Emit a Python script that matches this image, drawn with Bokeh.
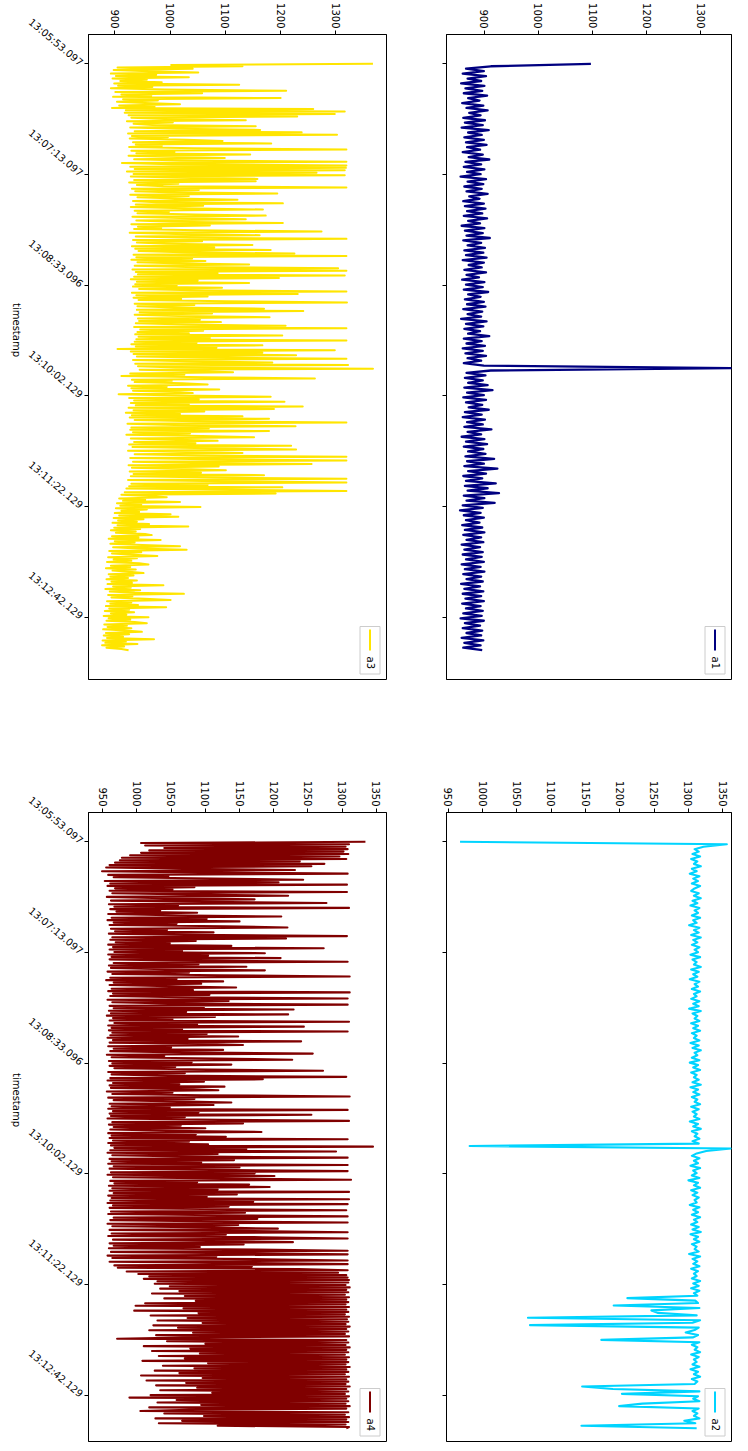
import math
import numpy as np
from bokeh.plotting import figure
from bokeh.layouts import column, row
from bokeh.models import Range1d, FixedTicker, Label
from bokeh.embed import file_html
from bokeh.resources import INLINE

# ---------------- data ----------------
N_SAMPLES = 2650
time_tick_positions = [0, 500, 1000, 1500, 2000, 2500]
time_tick_labels = ["13:05:53.097", "13:07:13.097", "13:08:33.096",
                    "13:10:02.129", "13:11:22.129", "13:12:42.129"]
value_ticks_a1 = [900, 1000, 1100, 1200, 1300]
value_ticks_a3 = [900, 1000, 1100, 1200, 1300]
value_ticks_a2 = [950, 1000, 1050, 1100, 1150, 1200, 1250, 1300, 1350]
value_ticks_a4 = [950, 1000, 1050, 1100, 1150, 1200, 1250, 1300, 1350]

a1 = [
    1097, 912, 866, 899, 860, 903, 869, 894, 857, 900, 865, 896, 862, 905, 870, 891, 859, 898, 867, 906,
    872, 893, 861, 901, 864, 897, 858, 908, 870, 895, 863, 899, 866, 904, 868, 892, 860, 897, 871, 909,
    865, 894, 862, 900, 868, 893, 856, 903, 869, 898, 863, 895, 867, 906, 872, 891, 861, 899, 864, 902,
    868, 896, 862, 905, 870, 892, 858, 900, 864, 897, 867, 910, 861, 894, 869, 901, 863, 898, 866, 904,
    860, 899, 871, 895, 863, 903, 867, 890, 859, 900, 866, 897, 862, 907, 870, 893, 864, 899, 868, 902,
    861, 896, 869, 894, 857, 904, 866, 898, 863, 892, 870, 909, 862, 895, 867, 901, 860, 897, 865, 903,
    869, 894, 862, 899, 1356, 912, 867, 902, 864, 897, 870, 906, 863, 915, 868, 899, 861, 903, 866, 896,
    871, 908, 864, 895, 860, 901, 868, 897, 863, 913, 869, 894, 858, 900, 866, 905, 862, 898, 870, 902,
    865, 918, 868, 899, 863, 924, 870, 903, 861, 896, 866, 921, 864, 906, 869, 927, 862, 900, 867, 919,
    860, 897, 855, 893, 862, 899, 866, 891, 859, 896, 864, 900, 861, 894, 867, 898, 858, 892, 863, 897,
    860, 895, 866, 899, 858, 893, 864, 900, 861, 894, 867, 897, 857, 892, 863, 898, 860, 894, 865, 899,
    859, 893, 866, 897, 861, 895, 856, 899, 864, 892, 860, 896, 867, 894, 858, 898, 863, 893, 861, 896,
]

a2 = [
    967, 1356, 1322, 1309, 1315, 1306, 1317, 1304, 1313, 1308, 1318, 1305, 1312, 1302, 1316, 1307, 1314, 1305, 1317, 1309,
    1304, 1315, 1308, 1318, 1306, 1313, 1303, 1316, 1309, 1314, 1305, 1317, 1307, 1312, 1301, 1316, 1308, 1315, 1304, 1318,
    1307, 1313, 1305, 1316, 1309, 1314, 1303, 1317, 1306, 1312, 1308, 1318, 1304, 1315, 1307, 1313, 1302, 1316, 1309, 1314,
    1305, 1317, 1308, 1312, 1304, 1316, 1307, 1315, 1301, 1318, 1306, 1313, 1309, 1316, 1304, 1314, 1307, 1317, 1305, 1312,
    1308, 1316, 1303, 1315, 1306, 1318, 1309, 1313, 1305, 1316, 1302, 1314, 1307, 1317, 1304, 1312, 1308, 1315, 1306, 1318,
    1303, 1314, 1307, 1316, 1305, 1313, 1309, 1317, 1304, 1315, 1306, 1312, 1308, 1316, 1302, 1314, 1307, 1318, 1305, 1313,
    1309, 1316, 1306, 1315, 981, 1362, 1326, 1312, 1305, 1316, 1308, 1314, 1303, 1317, 1307, 1312, 1305, 1316, 1300, 1314,
    1308, 1317, 1304, 1313, 1306, 1315, 1309, 1312, 1302, 1316, 1307, 1314, 1305, 1317, 1308, 1313, 1304, 1315, 1306, 1318,
    1303, 1314, 1308, 1316, 1305, 1312, 1309, 1315, 1301, 1317, 1306, 1313, 1307, 1316, 1304, 1314, 1308, 1312, 1305, 1317,
    1307, 1315, 1304, 1316, 1308, 1313, 1211, 1310, 1314, 1191, 1316, 1246, 1255, 1312, 1066, 1317, 1306, 1069, 1315, 1309,
    1296, 1314, 1307, 1173, 1316, 1305, 1313, 1309, 1317, 1304, 1315, 1308, 1312, 1306, 1316, 1303, 1314, 1308, 1317, 1305,
    1313, 1309, 1145, 1190, 1316, 1203, 1314, 1307, 1316, 1233, 1199, 1315, 1306, 1313, 1308, 1316, 1294, 1310, 1144, 1312,
]

a3 = [
    1367, 1002, 1131, 905, 1041, 898, 962, 1051, 893, 975, 902, 1034, 896, 958, 910, 985, 899, 1125, 906, 968,
    893, 990, 1210, 901, 1058, 912, 966, 897, 1200, 915, 978, 904, 955, 1018, 908, 972, 895, 1259, 920, 1316,
    918, 1298, 925, 1230, 930, 990, 1137, 922, 1005, 934, 968, 1155, 928, 1012, 1163, 936, 1238, 924, 1302, 931,
    996, 927, 1030, 1095, 933, 1183, 938, 985, 926, 1044, 1319, 930, 1008, 939, 1145, 925, 992, 1099, 935, 1020,
    1319, 913, 1002, 1319, 928, 1318, 936, 1316, 922, 1265, 934, 1316, 929, 1040, 1158, 935, 1155, 926, 1015, 940,
    988, 1319, 931, 1052, 937, 996, 1194, 928, 1034, 941, 1010, 1122, 933, 975, 1204, 938, 1060, 929, 1026, 1168,
    936, 998, 941, 1046, 1173, 932, 1018, 1137, 939, 1002, 1204, 930, 1072, 942, 984, 935, 1048, 1274, 927, 1011,
    1162, 938, 1036, 1319, 933, 1058, 940, 994, 1149, 931, 1080, 937, 1182, 943, 1022, 1225, 934, 1319, 939, 1040,
    930, 1064, 941, 1005, 1143, 936, 1030, 1304, 932, 1319, 938, 1086, 942, 1316, 935, 1197, 929, 1050, 940, 1143,
    937, 1012, 933, 1094, 944, 1038, 1319, 931, 1231, 939, 1068, 934, 1020, 943, 1102, 1320, 936, 1044, 941, 1007,
    1170, 940, 1241, 945, 1076, 936, 1016, 1180, 942, 1054, 944, 1092, 938, 1028, 1209, 935, 1319, 946, 1060, 941,
    1034, 937, 1203, 943, 1072, 939, 1319, 936, 1048, 930, 1167, 938, 1084, 905, 1298, 929, 1167, 934, 1228, 940,
    1056, 1319, 933, 1030, 1185, 937, 1322, 942, 1010, 1367, 945, 1040, 1114, 928, 1026, 912, 1064, 1262, 931, 1003,
    936, 1022, 1068, 924, 994, 930, 1089, 933, 1010, 1041, 907, 1016, 1182, 926, 1052, 935, 1207, 929, 1034, 938,
    1240, 925, 1188, 934, 1062, 920, 1018, 931, 1131, 927, 1179, 936, 1044, 1319, 923, 1008, 1227, 930, 1070, 928,
    1179, 933, 1036, 921, 1058, 1152, 929, 1012, 1086, 935, 1046, 926, 1219, 932, 1074, 1228, 924, 1030, 1131, 936,
    1050, 1319, 928, 1064, 1319, 933, 1040, 1256, 925, 1088, 931, 1022, 1101, 927, 1056, 934, 1170, 929, 1078, 1319,
    924, 1096, 1319, 930, 1068, 926, 1203, 921, 1112, 1319, 918, 1191, 912, 962, 994, 908, 955, 915, 1018, 904,
    948, 910, 1055, 902, 958, 912, 944, 900, 1001, 908, 1015, 898, 952, 906, 940, 896, 962, 905, 1033, 899,
    946, 893, 938, 902, 955, 967, 895, 943, 889, 983, 900, 936, 892, 950, 1018, 897, 942, 1030, 890, 948,
    895, 934, 977, 888, 940, 898, 930, 886, 944, 961, 893, 928, 884, 938, 896, 926, 952, 889, 934, 892,
    924, 885, 940, 894, 931, 887, 988, 897, 929, 883, 946, 891, 936, 1025, 888, 932, 894, 954, 1001, 886,
    930, 892, 942, 884, 993, 890, 926, 882, 935, 893, 921, 880, 961, 889, 928, 885, 936, 958, 881, 922,
    887, 930, 879, 918, 949, 884, 926, 880, 915, 886, 971, 878, 920, 883, 941, 877, 917, 885, 912, 925,
]

a4 = [
    1334, 1006, 1310, 1012, 1305, 1040, 1308, 1018, 1302, 1006, 1309, 990, 1296, 978, 1306, 975, 1238, 968, 1274, 960,
    1255, 955, 1068, 1231, 949, 1092, 1308, 958, 1046, 966, 1110, 1243, 953, 1207, 961, 1307, 957, 1084, 968, 1052,
    960, 1307, 964, 1075, 1221, 956, 1040, 1172, 962, 1098, 1277, 959, 1060, 967, 1310, 961, 1034, 970, 1088, 958,
    1046, 1211, 963, 1102, 957, 1150, 966, 1058, 960, 1128, 1220, 962, 1044, 968, 1112, 959, 1070, 1307, 964, 1218,
    961, 1086, 969, 1048, 958, 1138, 965, 1273, 960, 1066, 967, 1187, 958, 1104, 963, 1210, 960, 1052, 1308, 966,
    1090, 959, 1160, 962, 1042, 1187, 957, 1076, 964, 1120, 1311, 961, 1058, 955, 1126, 966, 1094, 960, 1048, 1145,
    963, 1082, 958, 1311, 965, 1106, 961, 1062, 1308, 957, 1134, 964, 1046, 1308, 960, 1098, 966, 1229, 959, 1072,
    962, 1221, 956, 1114, 965, 1052, 960, 1310, 967, 1088, 958, 1244, 963, 1066, 959, 1308, 964, 1102, 961, 1148,
    957, 1074, 965, 1240, 960, 1092, 1155, 958, 1050, 966, 1126, 961, 1068, 1257, 956, 1040, 963, 1116, 1227, 959,
    1080, 964, 1138, 960, 1056, 967, 1104, 1272, 958, 1070, 963, 1046, 1306, 961, 1184, 957, 1098, 965, 1062, 960,
    1128, 962, 1074, 1119, 956, 1052, 964, 1096, 1311, 958, 1084, 966, 1060, 1138, 960, 1112, 963, 1048, 958, 1308,
    965, 1090, 960, 1255, 962, 1070, 957, 1122, 1310, 964, 1155, 959, 1064, 966, 1100, 961, 1044, 1182, 958, 1086,
    963, 1130, 960, 1308, 965, 1076, 958, 1104, 962, 1345, 967, 1160, 961, 1291, 957, 1118, 964, 1066, 1308, 960,
    1142, 963, 1094, 958, 1308, 966, 1150, 960, 1108, 1308, 962, 1172, 957, 1201, 965, 1126, 1313, 961, 1088, 967,
    1164, 959, 1194, 964, 1118, 960, 1310, 966, 1146, 958, 1102, 963, 1310, 961, 1170, 957, 1308, 965, 1134, 960,
    1096, 1306, 962, 1158, 958, 1120, 1308, 966, 1176, 961, 1090, 1308, 957, 1148, 964, 1112, 1206, 960, 1168, 1308,
    963, 1130, 958, 1184, 1308, 965, 1104, 1228, 960, 1156, 966, 1092, 959, 1176, 1308, 962, 1140, 1308, 957, 1116,
    964, 1188, 1308, 960, 1152, 1308, 967, 1168, 972, 1236, 1308, 985, 1294, 1002, 1306, 1018, 1308, 1010, 1310, 1030,
    1309, 1026, 1305, 1048, 1311, 1034, 1306, 1062, 1309, 1022, 1304, 1070, 1310, 1040, 1306, 1086, 1309, 1012, 1305, 998,
    1310, 1068, 1306, 996, 1309, 1090, 1304, 1020, 1310, 1074, 1307, 1030, 1309, 1096, 1305, 1024, 1311, 1060, 1306, 1018,
    1309, 1082, 1304, 1028, 1310, 1066, 971, 1306, 1044, 1309, 1100, 1305, 1010, 1311, 1078, 1306, 1022, 1309, 1092, 1304,
    1032, 1310, 1070, 1306, 1008, 1309, 1104, 1305, 1038, 1311, 1084, 1306, 1026, 1309, 1062, 1304, 1006, 1310, 1096, 1306,
    1014, 1309, 1072, 1305, 1028, 1311, 1088, 1306, 1034, 1309, 1110, 1304, 1020, 1310, 989, 1306, 1058, 1309, 1030, 1305,
    1094, 1311, 1018, 1306, 1076, 1005, 1309, 1040, 1304, 1098, 1310, 1027, 1306, 1066, 1309, 1032, 1305, 1118, 1310, 1306,
]

colors = {"a1": "#000080", "a2": "#00D4FF", "a3": "#FFE500", "a4": "#800000"}
line_widths = {"a1": 2.3, "a2": 2.1, "a3": 2.0, "a4": 2.1}

# ---------------- layout constants ----------------
FONT = "DejaVu Sans"
FULL_W = 298   # frame width of a complete panel
FULL_H = 645   # frame height of a complete panel


def panel(name, vals, vticks, frame_w, frame_h, show_labels, mb_left, mb_right, mb_bottom):
    vals = np.asarray(vals, dtype=float)
    t = np.linspace(0, N_SAMPLES - 1, len(vals))
    vmin, vmax = vals.min(), vals.max()
    pad = 0.05 * (vmax - vmin)
    x0 = vmin - pad
    x1 = x0 + (vmax + pad - x0) * frame_w / FULL_W
    t0 = -0.05 * (N_SAMPLES - 1)
    t1 = t0 + (1.10 * (N_SAMPLES - 1)) * frame_h / FULL_H

    p = figure(frame_width=frame_w, frame_height=frame_h,
               x_range=Range1d(x0, x1), y_range=Range1d(t1, t0),
               x_axis_location="above", output_backend="svg", toolbar_location=None,
               min_border_left=mb_left, min_border_right=mb_right,
               min_border_top=30, min_border_bottom=mb_bottom,
               background_fill_color="white", border_fill_color="white")
    p.xgrid.visible = False
    p.ygrid.visible = False
    p.outline_line_color = "black"
    p.outline_line_width = 1
    p.outline_line_alpha = 1

    xa = p.xaxis[0]
    xa.ticker = FixedTicker(ticks=vticks)
    xa.major_label_orientation = -math.pi / 2
    xa.major_label_text_font = FONT
    xa.major_label_text_font_size = "10px"
    xa.major_label_text_color = "black"
    xa.major_label_standoff = 2
    xa.major_tick_out = 4
    xa.major_tick_in = 0
    xa.minor_tick_out = 0
    xa.minor_tick_in = 0
    xa.axis_line_color = "black"
    xa.major_tick_line_color = "black"

    ya = p.yaxis[0]
    ya.ticker = FixedTicker(ticks=time_tick_positions)
    ya.major_tick_out = 4
    ya.major_tick_in = 0
    ya.minor_tick_out = 0
    ya.minor_tick_in = 0
    ya.axis_line_color = "black"
    ya.major_tick_line_color = "black"
    ya.major_label_text_font = FONT
    ya.major_label_text_font_size = "10px"
    ya.major_label_text_color = "black"
    if show_labels:
        ya.major_label_overrides = {pos: lab for pos, lab in zip(time_tick_positions, time_tick_labels)}
        ya.major_label_orientation = -0.70
        ya.major_label_standoff = 3
        ya.axis_label = "timestamp"
        ya.axis_label_orientation = -math.pi / 2
        ya.axis_label_text_font = FONT
        ya.axis_label_text_font_size = "10px"
        ya.axis_label_text_font_style = "normal"
        ya.axis_label_text_color = "black"
        ya.axis_label_standoff = 4
    else:
        ya.major_label_overrides = {pos: "" for pos in time_tick_positions}

    col = colors[name]
    p.line(vals, t, line_color=col, line_width=line_widths[name], line_join="round")

    # legend (drawn rotated, like the reference)
    def xd(px):
        return x0 + px * (x1 - x0) / frame_w

    def yd(py):
        return t0 + py * (t1 - t0) / frame_h

    R, B = frame_w, frame_h
    p.quad(left=xd(R - 26.5), right=xd(R - 6.5), top=yd(B - 53), bottom=yd(B - 5.5),
           fill_color="white", fill_alpha=0.8, line_color="#cccccc", line_width=1)
    p.segment(x0=xd(R - 16.5), y0=yd(B - 50), x1=xd(R - 16.5), y1=yd(B - 29),
              line_color=col, line_width=2)
    p.add_layout(Label(x=xd(R - 16.5), y=yd(B - 23), text=name, angle=-math.pi / 2,
                       text_align="left", text_baseline="middle",
                       text_font=FONT, text_font_size="10px", text_color="black"))
    return p


p3 = panel("a3", a3, value_ticks_a3, 298, 645, True, 88, 10, 99)
p1 = panel("a1", a1, value_ticks_a1, 285, 645, False, 50, 1, 99)
p4 = panel("a4", a4, value_ticks_a4, 298, 629, True, 88, 10, 1)
p2 = panel("a2", a2, value_ticks_a2, 285, 629, False, 50, 1, 1)

layout = column(row(p3, p1), row(p4, p2))

open("out.html", "w").write(file_html(layout, INLINE))
